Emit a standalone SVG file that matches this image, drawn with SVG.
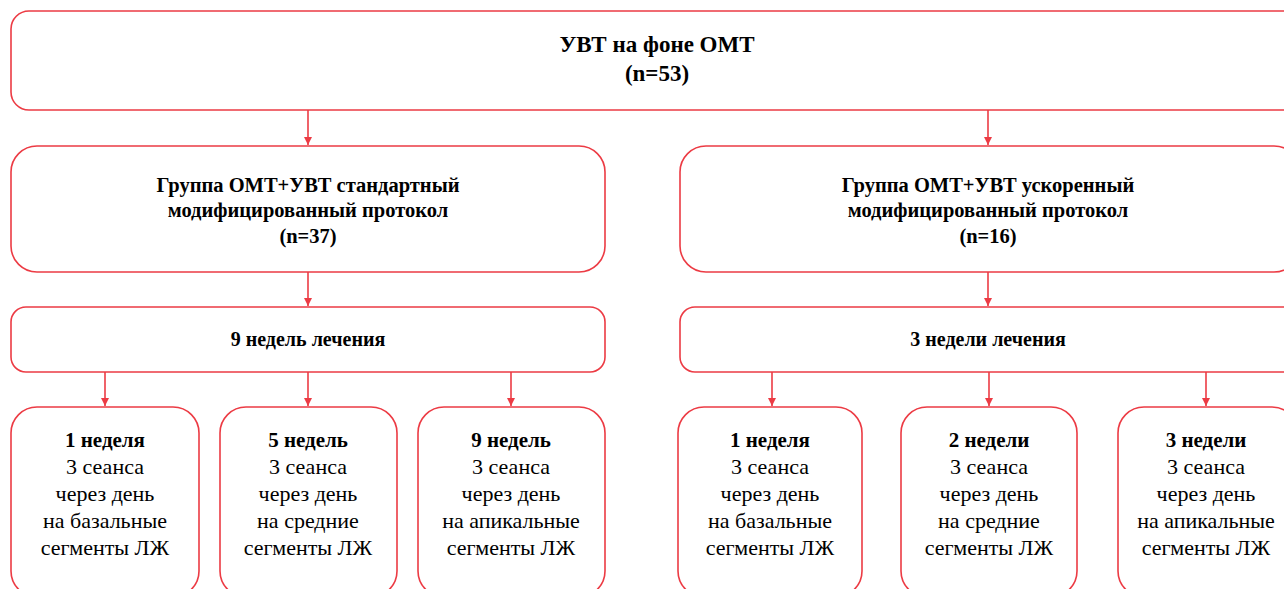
<svg xmlns="http://www.w3.org/2000/svg" width="1284" height="589" viewBox="0 0 1284 589" font-family="'Liberation Serif', 'Times New Roman', serif">
<defs>
<style>
.box{fill:#fff;stroke:#ec3b44;stroke-width:1.6}
.c{stroke:#ec3b44;stroke-width:1.6;fill:none}
text{fill:#000;text-anchor:middle;font-family:'Liberation Serif','Times New Roman',serif}
.b{font-weight:bold}
.t1{font-size:23px}
.t2{font-size:20.5px}
.t3{font-size:20px}
.t4{font-size:22px}
.h{font-weight:bold;font-size:21px}
</style>
<marker id="ah" markerWidth="10" markerHeight="10" refX="8" refY="5" orient="auto" markerUnits="userSpaceOnUse">
<path d="M0,1 L8,5 L0,9 Z" fill="#ec3b44"/>
</marker>
</defs>
<rect width="1284" height="589" fill="#fff"/>
<g id="connectors">
<line class="c" x1="308" y1="110" x2="308" y2="145" marker-end="url(#ah)"/>
<line class="c" x1="988" y1="110" x2="988" y2="145" marker-end="url(#ah)"/>
<line class="c" x1="308" y1="272" x2="308" y2="306" marker-end="url(#ah)"/>
<line class="c" x1="988" y1="272" x2="988" y2="306" marker-end="url(#ah)"/>
<line class="c" x1="105" y1="372" x2="105" y2="406" marker-end="url(#ah)"/>
<line class="c" x1="308" y1="372" x2="308" y2="406" marker-end="url(#ah)"/>
<line class="c" x1="511" y1="372" x2="511" y2="406" marker-end="url(#ah)"/>
<line class="c" x1="772" y1="372" x2="772" y2="406" marker-end="url(#ah)"/>
<line class="c" x1="989" y1="372" x2="989" y2="406" marker-end="url(#ah)"/>
<line class="c" x1="1206" y1="372" x2="1206" y2="406" marker-end="url(#ah)"/>
</g>
<g id="top">
<rect class="box" x="11" y="11" width="1290" height="99" rx="18"/>
<text class="b t1" x="657" y="52">УВТ на фоне ОМТ</text>
<text class="b t1" x="657" y="81">(n=53)</text>
</g>
<g id="group-std">
<rect class="box" x="11" y="146" width="594" height="126" rx="26"/>
<text class="b t2" x="308" y="192">Группа ОМТ+УВТ стандартный</text>
<text class="b t2" x="308" y="217">модифицированный протокол</text>
<text class="b t2" x="308" y="243">(n=37)</text>
</g>
<g id="group-fast">
<rect class="box" x="680" y="146" width="620" height="126" rx="26"/>
<text class="b t2" x="988" y="192">Группа ОМТ+УВТ ускоренный</text>
<text class="b t2" x="988" y="217">модифицированный протокол</text>
<text class="b t2" x="988" y="243">(n=16)</text>
</g>
<g id="weeks9">
<rect class="box" x="11" y="307" width="594" height="65" rx="15"/>
<text class="b t3" x="308" y="346">9 недель лечения</text>
</g>
<g id="weeks3">
<rect class="box" x="680" y="307" width="620" height="65" rx="15"/>
<text class="b t3" x="988" y="346">3 недели лечения</text>
</g>
<g id="s1">
<rect class="box" x="11" y="407" width="188" height="190" rx="26"/>
<text class="t4" x="105" y="447"><tspan class="h">1 неделя</tspan><tspan x="105" dy="27">3 сеанса</tspan><tspan x="105" dy="27">через день</tspan><tspan x="105" dy="27">на базальные</tspan><tspan x="105" dy="27">сегменты ЛЖ</tspan></text>
</g>
<g id="s2">
<rect class="box" x="220" y="407" width="177" height="190" rx="26"/>
<text class="t4" x="308" y="447"><tspan class="h">5 недель</tspan><tspan x="308" dy="27">3 сеанса</tspan><tspan x="308" dy="27">через день</tspan><tspan x="308" dy="27">на средние</tspan><tspan x="308" dy="27">сегменты ЛЖ</tspan></text>
</g>
<g id="s3">
<rect class="box" x="418" y="407" width="187" height="190" rx="26"/>
<text class="t4" x="511" y="447"><tspan class="h">9 недель</tspan><tspan x="511" dy="27">3 сеанса</tspan><tspan x="511" dy="27">через день</tspan><tspan x="511" dy="27">на апикальные</tspan><tspan x="511" dy="27">сегменты ЛЖ</tspan></text>
</g>
<g id="s4">
<rect class="box" x="678" y="407" width="184" height="190" rx="26"/>
<text class="t4" x="770" y="447"><tspan class="h">1 неделя</tspan><tspan x="770" dy="27">3 сеанса</tspan><tspan x="770" dy="27">через день</tspan><tspan x="770" dy="27">на базальные</tspan><tspan x="770" dy="27">сегменты ЛЖ</tspan></text>
</g>
<g id="s5">
<rect class="box" x="901" y="407" width="176" height="190" rx="26"/>
<text class="t4" x="989" y="447"><tspan class="h">2 недели</tspan><tspan x="989" dy="27">3 сеанса</tspan><tspan x="989" dy="27">через день</tspan><tspan x="989" dy="27">на средние</tspan><tspan x="989" dy="27">сегменты ЛЖ</tspan></text>
</g>
<g id="s6">
<rect class="box" x="1118" y="407" width="180" height="190" rx="26"/>
<text class="t4" x="1206" y="447"><tspan class="h">3 недели</tspan><tspan x="1206" dy="27">3 сеанса</tspan><tspan x="1206" dy="27">через день</tspan><tspan x="1206" dy="27">на апикальные</tspan><tspan x="1206" dy="27">сегменты ЛЖ</tspan></text>
</g>
</svg>
